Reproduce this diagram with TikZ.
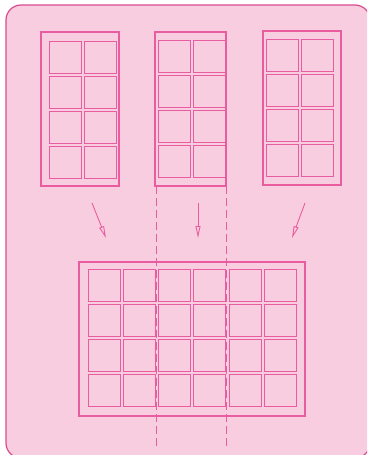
\documentclass[tikz,border=0pt]{standalone}
\usetikzlibrary{arrows.meta}
\begin{document}
\begin{tikzpicture}[x=1pt, y=-1pt]
    \definecolor{borderColour}{HTML}{D94A8F}
    \definecolor{lineColour}{HTML}{EA5CA0}
    \definecolor{fillColour}{HTML}{F9CDE0}

    \def\cellSize{32}
    \def\cellStep{35}
    \def\bigStep{35.3}

    \tikzset{
        panel/.style={draw=lineColour, line width=1.1pt},
        cell/.style={draw=lineColour, line width=0.9pt},
        cutline/.style={draw=lineColour, line width=0.9pt, dash pattern=on 8pt off 4pt},
        move/.style={draw=lineColour, line width=0.9pt, -{Triangle[open, length=12pt, width=5pt]}}
    }

    \useasboundingbox (0,0) rectangle (367,455);

    % Draw background (right and bottom edges fall outside the picture)
    \begin{scope}
        \clip (0,0) rectangle (367,455);
        \filldraw[fill=fillColour, draw=borderColour, line width=1.2pt, rounded corners=15pt] (6,5) rectangle (370,458);
    \end{scope}

    % Left panel
    \draw[panel] (41,32) rectangle (119,186);
    \foreach \i in {0,1}
        \foreach \j in {0,...,3}
            \draw[cell] (49+\i*\cellStep, 41+\j*\cellStep) rectangle ++(\cellSize,\cellSize);

    % Middle panel
    \draw[panel] (155,32) rectangle (226,186);
    \foreach \i in {0,1}
        \foreach \j in {0,...,3}
            \draw[cell] (158+\i*\cellStep, 40+\j*\cellStep) rectangle ++(\cellSize,\cellSize);

    % Right panel
    \draw[panel] (263,31) rectangle (341,185);
    \foreach \i in {0,1}
        \foreach \j in {0,...,3}
            \draw[cell] (266+\i*\cellStep, 39+\j*\cellStep) rectangle ++(\cellSize,\cellSize);

    % Joined panel
    \draw[panel] (79,262) rectangle (305,416);
    \foreach \i in {0,...,5}
        \foreach \j in {0,...,3}
            \draw[cell] (88+\i*\bigStep, 269+\j*\bigStep) rectangle ++(\cellSize,\cellSize);

    % Cut lines through the joined panel
    \coordinate (cutLeftTop) at (156,186);
    \coordinate (cutLeftBottom) at (156,447);
    \coordinate (cutRightTop) at (226.5,186);
    \coordinate (cutRightBottom) at (226.5,447);
    \draw[cutline] (cutLeftTop) -- (cutLeftBottom);
    \draw[cutline] (cutRightTop) -- (cutRightBottom);

    % Arrows
    \coordinate (leftFrom) at (92,203);
    \coordinate (leftTo) at (106,238);
    \coordinate (midFrom) at (198,203);
    \coordinate (midTo) at (198,238);
    \coordinate (rightFrom) at (305,203);
    \coordinate (rightTo) at (292,238);
    \draw[move] (leftFrom) -- (leftTo);
    \draw[move] (midFrom) -- (midTo);
    \draw[move] (rightFrom) -- (rightTo);

\end{tikzpicture}
\end{document}
